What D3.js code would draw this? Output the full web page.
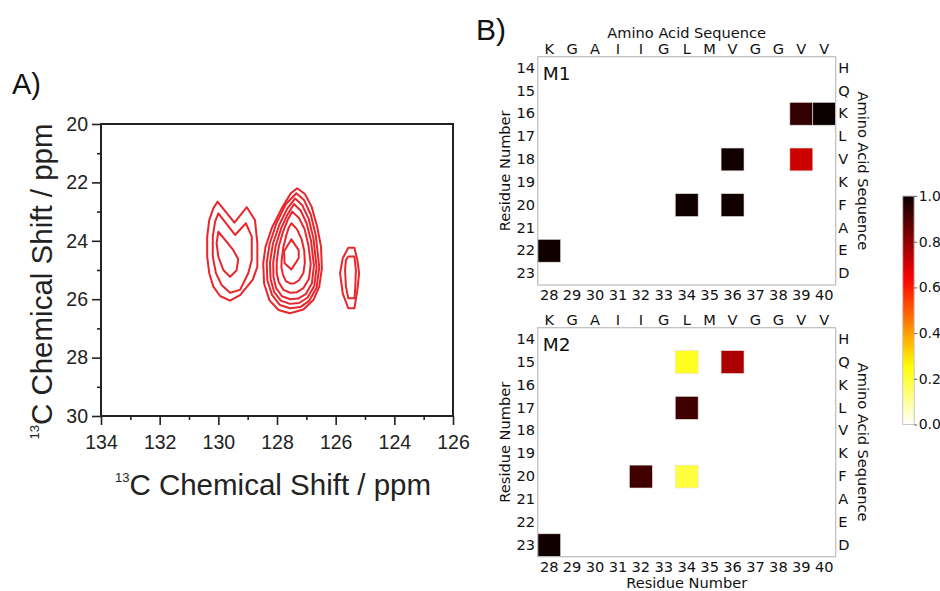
<!DOCTYPE html>
<html>
<head>
<meta charset="utf-8">
<script src="https://cdn.jsdelivr.net/npm/d3@7"></script>
<style>
body { margin: 0; background: #fff; }
svg { display: block; }
</style>
</head>
<body>
<svg id="fig" width="940" height="591"></svg>
<script>
// ---------- panel A data (ppm) ----------
var xMajorA = [134, 132, 130, 128, 126, 124, 122];
var xLabelsA = ["134", "132", "130", "128", "126", "124", "126"];   // last label as printed
var xMinorA = [133, 131, 129, 127, 125, 123];
var yMajorA = [20, 22, 24, 26, 28, 30];
var yMinorA = [21, 23, 25, 27, 29];

// left peak, three levels
var leftOuter = [[130.03,22.66],[129.45,23.38],[129.03,22.85],[128.75,23.29],[128.67,24.09],[128.67,24.89],[128.83,25.34],[129.26,25.86],[129.60,26.05],[129.94,25.89],[130.17,25.57],[130.31,25.11],[130.38,24.54],[130.38,23.86],[130.31,23.29],[130.17,22.89]];
var leftMid = [[130.00,23.06],[129.43,23.80],[129.06,23.40],[128.86,23.86],[128.86,24.66],[128.98,25.11],[129.26,25.68],[129.60,25.78],[129.89,25.51],[130.08,25.11],[130.19,24.54],[130.19,23.86],[130.11,23.34]];
var leftInner = [[130.00,23.69],[129.72,24.03],[129.49,24.32],[129.32,24.63],[129.38,25.02],[129.60,25.23],[129.83,25.00],[130.00,24.54],[130.06,24.09]];

// middle peak, seven levels
var mid1 = [[127.31,22.20],[127.05,22.40],[126.82,22.83],[126.63,23.52],[126.50,24.20],[126.47,24.94],[126.56,25.57],[126.76,26.03],[127.10,26.35],[127.56,26.48],[127.95,26.37],[128.26,26.03],[128.44,25.46],[128.47,24.77],[128.39,24.20],[128.18,23.57],[127.84,22.89],[127.53,22.37]];
var mid2 = [[127.34,22.37],[127.08,22.60],[126.85,23.10],[126.68,23.80],[126.56,24.90],[126.65,25.60],[126.90,26.05],[127.20,26.27],[127.56,26.31],[127.90,26.20],[128.17,25.85],[128.33,25.35],[128.35,24.75],[128.25,24.10],[128.02,23.40],[127.70,22.75]];
var mid3 = [[127.38,22.55],[127.14,22.78],[126.92,23.25],[126.76,23.90],[126.65,24.90],[126.73,25.55],[126.96,25.95],[127.25,26.13],[127.56,26.16],[127.87,26.05],[128.10,25.75],[128.22,25.30],[128.24,24.75],[128.14,24.10],[127.92,23.45],[127.65,22.90]];
var mid4 = [[127.42,22.74],[127.19,22.97],[126.99,23.40],[126.84,24.00],[126.74,24.85],[126.81,25.45],[127.02,25.83],[127.28,25.98],[127.55,26.00],[127.83,25.90],[128.03,25.62],[128.12,25.25],[128.13,24.75],[128.04,24.15],[127.85,23.55],[127.63,23.08]];
var mid5 = [[127.48,23.00],[127.25,23.22],[127.06,23.60],[126.93,24.15],[126.85,24.80],[126.91,25.30],[127.10,25.62],[127.32,25.76],[127.55,25.78],[127.78,25.68],[127.94,25.42],[128.01,25.10],[128.01,24.70],[127.93,24.15],[127.78,23.65],[127.62,23.25]];
var mid6 = [[127.51,23.40],[127.32,23.60],[127.16,23.95],[127.07,24.35],[127.05,24.75],[127.10,25.10],[127.25,25.35],[127.40,25.45],[127.55,25.46],[127.70,25.38],[127.80,25.15],[127.85,24.90],[127.84,24.65],[127.78,24.20],[127.68,23.80],[127.60,23.55]];
var mid7 = [[127.51,23.95],[127.26,24.32],[127.26,24.60],[127.51,24.98],[127.74,24.77],[127.76,24.37]];

// small right peak, two levels
var rightOuter = [[125.57,24.24],[125.36,24.24],[125.26,24.66],[125.20,25.11],[125.26,25.68],[125.36,26.31],[125.57,26.31],[125.76,25.80],[125.85,25.11],[125.76,24.60]];
var rightInner = [[125.57,24.54],[125.36,24.54],[125.31,25.00],[125.33,25.57],[125.36,25.97],[125.57,25.97],[125.65,25.57],[125.68,25.00],[125.65,24.66]];

var contours = [leftOuter, leftMid, leftInner, mid1, mid2, mid3, mid4, mid5, mid6, mid7, rightOuter, rightInner];

// ---------- panel B data ----------
var residueX = [28, 29, 30, 31, 32, 33, 34, 35, 36, 37, 38, 39, 40];
var seqX = ["K", "G", "A", "I", "I", "G", "L", "M", "V", "G", "G", "V", "V"];
var residueY = [14, 15, 16, 17, 18, 19, 20, 21, 22, 23];
var seqY = ["H", "Q", "K", "L", "V", "K", "F", "A", "E", "D"];
// [residue x, residue y, value]
var m1Cells = [[39,16,0.94],[40,16,1.0],[36,18,0.99],[39,18,0.71],[34,20,0.99],[36,20,0.99],[28,22,0.99]];
var m2Cells = [[34,15,0.22],[36,15,0.76],[34,17,0.92],[32,20,0.92],[34,20,0.19],[28,23,0.99]];
var cbarTicks = [0, 0.2, 0.4, 0.6, 0.8, 1.0];

var svg = d3.select("#fig");
var fontA = "'Liberation Sans', Arial, sans-serif";
var fontB = "'DejaVu Sans', sans-serif";
var sizeB = "14.6px";

/* ===================== panel A ===================== */
var xA = d3.scaleLinear().domain([134, 122]).range([101, 453]);
var yA = d3.scaleLinear().domain([20, 30]).range([124, 416]);
var gA = svg.append("g");

function styleAxis(sel) {
    sel.select(".domain").remove();
    sel.selectAll("line").attr("stroke", "#222").attr("stroke-width", 1.6);
    sel.selectAll("text").attr("fill", "#222").style("font-family", fontA).style("font-size", "19.5px");
}

gA.append("g").attr("transform", "translate(0,416)")
    .call(d3.axisBottom(xA).tickValues(xMajorA).tickSize(9).tickPadding(10)
        .tickFormat(function(d, i) { return xLabelsA[i]; }))
    .call(styleAxis);
gA.append("g").attr("transform", "translate(0,416)")
    .call(d3.axisBottom(xA).tickValues(xMinorA).tickSize(4).tickFormat(""))
    .call(styleAxis);
gA.append("g").attr("transform", "translate(101,0)")
    .call(d3.axisLeft(yA).tickValues(yMajorA).tickSize(9).tickPadding(4))
    .call(styleAxis);
gA.append("g").attr("transform", "translate(101,0)")
    .call(d3.axisLeft(yA).tickValues(yMinorA).tickSize(4).tickFormat(""))
    .call(styleAxis);

var line = d3.line().x(function(d) { return xA(d[0]); }).y(function(d) { return yA(d[1]); })
    .curve(d3.curveLinearClosed);

gA.selectAll("path.contour").data(contours).enter().append("path")
    .attr("class", "contour")
    .attr("d", line)
    .attr("fill", "none")
    .attr("stroke", "#e8262c")
    .attr("stroke-width", 2)
    .attr("stroke-linejoin", "round");

gA.append("rect").attr("x", 101).attr("y", 124).attr("width", 352).attr("height", 292)
    .attr("fill", "none").attr("stroke", "#222").attr("stroke-width", 2);

// titles with superscript 13
var xt = gA.append("text").attr("x", 273).attr("y", 495).attr("text-anchor", "middle")
    .attr("fill", "#222").style("font-family", fontA);
xt.append("tspan").attr("dy", -13).style("font-size", "13px").text("13");
xt.append("tspan").attr("dy", 13).style("font-size", "29.5px").text("C Chemical Shift / ppm");

var yt = gA.append("text").attr("transform", "translate(52,281.5) rotate(-90)").attr("text-anchor", "middle")
    .attr("fill", "#222").style("font-family", fontA);
yt.append("tspan").attr("dy", -13).style("font-size", "13px").text("13");
yt.append("tspan").attr("dy", 13).style("font-size", "29.5px").text("C Chemical Shift / ppm");

svg.append("text").attr("x", 12).attr("y", 94).style("font-family", fontA).style("font-size", "29px")
    .attr("fill", "#111").text("A)");

/* ===================== panel B ===================== */
svg.append("text").attr("x", 476).attr("y", 39.5).style("font-family", fontA).style("font-size", "30px")
    .attr("fill", "#111").text("B)");

var hotR = d3.scaleLinear().domain([0, 0.365079, 1]).range([0.0416, 1, 1]).clamp(true);
var hotG = d3.scaleLinear().domain([0, 0.365079, 0.746032, 1]).range([0, 0, 1, 1]).clamp(true);
var hotB = d3.scaleLinear().domain([0, 0.746032, 1]).range([0, 0, 1]).clamp(true);
function hotRev(v) {
    var t = 1 - v;
    return d3.rgb(hotR(t) * 255, hotG(t) * 255, hotB(t) * 255).formatHex();
}

var left = 537.7, right = 835.7;
var xB = d3.scaleBand().domain(residueX).range([left, right]);

function styleB(sel) {
    sel.select(".domain").remove();
    sel.selectAll("text").attr("fill", "#111").style("font-family", fontB).style("font-size", sizeB);
}

function drawGrid(top, bottom, cells, tag, topTitle, bottomTitle) {
    var yB = d3.scaleBand().domain(residueY).range([top, bottom]);
    var g = svg.append("g");

    g.selectAll("rect.cell").data(cells).enter().append("rect")
        .attr("class", "cell")
        .attr("x", function(d) { return xB(d[0]); })
        .attr("y", function(d) { return yB(d[1]); })
        .attr("width", xB.bandwidth())
        .attr("height", yB.bandwidth())
        .attr("fill", function(d) { return hotRev(d[2]); })
        .attr("stroke", "#e6dede").attr("stroke-width", 0.6);

    g.append("rect").attr("x", left).attr("y", top).attr("width", right - left).attr("height", bottom - top)
        .attr("fill", "none").attr("stroke", "#bdbdbd").attr("stroke-width", 1.2);

    g.append("g").attr("transform", "translate(0," + top + ")")
        .call(d3.axisTop(xB).tickSize(0).tickPadding(2.7).tickFormat(function(d, i) { return seqX[i]; }))
        .call(styleB);
    g.append("g").attr("transform", "translate(0," + bottom + ")")
        .call(d3.axisBottom(xB).tickSize(0).tickPadding(4.5))
        .call(styleB);
    g.append("g").attr("transform", "translate(" + left + ",0)")
        .call(d3.axisLeft(yB).tickSize(0).tickPadding(2.7))
        .call(styleB);
    g.append("g").attr("transform", "translate(" + right + ",0)")
        .call(d3.axisRight(yB).tickSize(0).tickPadding(2.6).tickFormat(function(d, i) { return seqY[i]; }))
        .call(styleB);

    var mid = (top + bottom) / 2;
    g.append("text").attr("x", left + 5).attr("y", top + 23.5).style("font-family", fontB)
        .style("font-size", "18.5px").attr("fill", "#111").text(tag);
    g.append("text").attr("transform", "translate(510," + mid + ") rotate(-90)").attr("text-anchor", "middle")
        .style("font-family", fontB).style("font-size", sizeB).attr("fill", "#111").text("Residue Number");
    g.append("text").attr("transform", "translate(858," + mid + ") rotate(90)").attr("text-anchor", "middle")
        .style("font-family", fontB).style("font-size", sizeB).attr("fill", "#111").text("Amino Acid Sequence");
    if (topTitle) {
        g.append("text").attr("x", (left + right) / 2).attr("y", top - 18.4).attr("text-anchor", "middle")
            .style("font-family", fontB).style("font-size", sizeB).attr("fill", "#111").text(topTitle);
    }
    if (bottomTitle) {
        g.append("text").attr("x", (left + right) / 2).attr("y", bottom + 31).attr("text-anchor", "middle")
            .style("font-family", fontB).style("font-size", sizeB).attr("fill", "#111").text(bottomTitle);
    }
}

drawGrid(56.7, 285, m1Cells, "M1", "Amino Acid Sequence", null);
drawGrid(327.7, 556.7, m2Cells, "M2", null, "Residue Number");

// colorbar
var cbX = 902.7, cbW = 11.5;
var yC = d3.scaleLinear().domain([0, 1]).range([424.5, 196]);
var grad = svg.append("defs").append("linearGradient").attr("id", "hotr")
    .attr("x1", 0).attr("y1", 1).attr("x2", 0).attr("y2", 0);
grad.selectAll("stop").data(d3.range(0, 1.0001, 0.02)).enter().append("stop")
    .attr("offset", function(d) { return d; })
    .attr("stop-color", function(d) { return hotRev(d); });
svg.append("rect").attr("x", cbX).attr("y", yC(1)).attr("width", cbW).attr("height", yC(0) - yC(1))
    .attr("fill", "url(#hotr)").attr("stroke", "#c8c8c8").attr("stroke-width", 1);
svg.append("g").attr("transform", "translate(" + (cbX + cbW) + ",0)")
    .call(d3.axisRight(yC).tickValues(cbarTicks).tickSize(3).tickPadding(1.5).tickFormat(d3.format(".1f")))
    .call(function(sel) {
        sel.select(".domain").remove();
        sel.selectAll("line").attr("stroke", "#333").attr("stroke-width", 0.8);
        sel.selectAll("text").attr("fill", "#111").style("font-family", fontB).style("font-size", "14px");
    });
</script>
</body>
</html>
